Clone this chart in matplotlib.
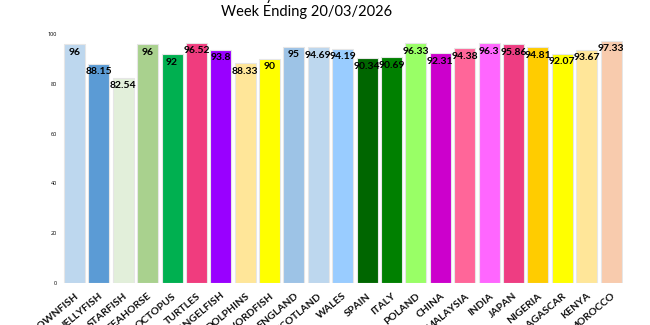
import matplotlib
matplotlib.use("Agg")
import matplotlib.pyplot as plt

# Attendance per class / group
groups = ["CLOWNFISH", "JELLYFISH", "STARFISH", "SEAHORSE", "OCTOPUS", "TURTLES",
          "ANGELFISH", "DOLPHINS", "SWORDFISH", "ENGLAND", "SCOTLAND", "WALES",
          "SPAIN", "ITALY", "POLAND", "CHINA", "MALAYSIA", "INDIA", "JAPAN",
          "NIGERIA", "MADAGASCAR", "KENYA", "MOROCCO"]
attendance = [96, 88.15, 82.54, 96, 92, 96.52, 93.8, 88.33, 90, 95, 94.69, 94.19,
              90.34, 90.69, 96.33, 92.31, 94.38, 96.3, 95.86, 94.81, 92.07, 93.67, 97.33]
colors = ["#BDD7EE", "#5B9BD5", "#E2EFDA", "#A9D18E", "#00B050", "#F03C7E",
          "#9900FF", "#FFE699", "#FFFF00", "#9DC3E6", "#BDD7EE", "#99CCFF",
          "#006600", "#008000", "#99FF66", "#CC00CC", "#FF6699", "#FF66FF",
          "#EE3D82", "#FFCC00", "#FFFF00", "#FFE699", "#F8CBAD"]
yticks = [0, 20, 40, 60, 80, 100]

fig = plt.figure(figsize=(6.5, 3.25), dpi=100)
ax = fig.add_axes([0.0958, 0.129, 0.863, 0.766])

x = list(range(len(groups)))
bars = ax.bar(x, attendance, width=0.86, color=colors, edgecolor="#e6e6e6", linewidth=0.8)

for b, v in zip(bars, attendance):
    ax.annotate(f"{v:g}", (b.get_x() + b.get_width() / 2, v), xytext=(0, -2.5),
                textcoords="offset points", ha="center", va="top",
                fontsize=7.5, fontweight="bold", family="Lato", color="black")

ax.set_xlim(-0.5, len(groups) - 0.5)
ax.set_ylim(0, 100)
ax.set_yticks(yticks)
ax.set_yticklabels([str(t) for t in yticks], fontsize=4, family="Open Sans")
ax.set_xticks(x)
ax.set_xticklabels(groups, rotation=40, ha="right", rotation_mode="anchor",
                   fontsize=7.5, fontweight="bold", family="Lato", color="#111111")
ax.tick_params(axis="both", length=0, pad=4)
ax.tick_params(axis="x", pad=6)
for s in ax.spines.values():
    s.set_visible(False)

fig.text(0.472, 1.012, "Weekly Class Attendance", ha="center", va="center",
         fontsize=10.5, family="Lato")
fig.text(0.472, 0.962, "Week Ending 20/03/2026", ha="center", va="center",
         fontsize=10.5, family="Lato")

fig.savefig("out.png", dpi=100)
